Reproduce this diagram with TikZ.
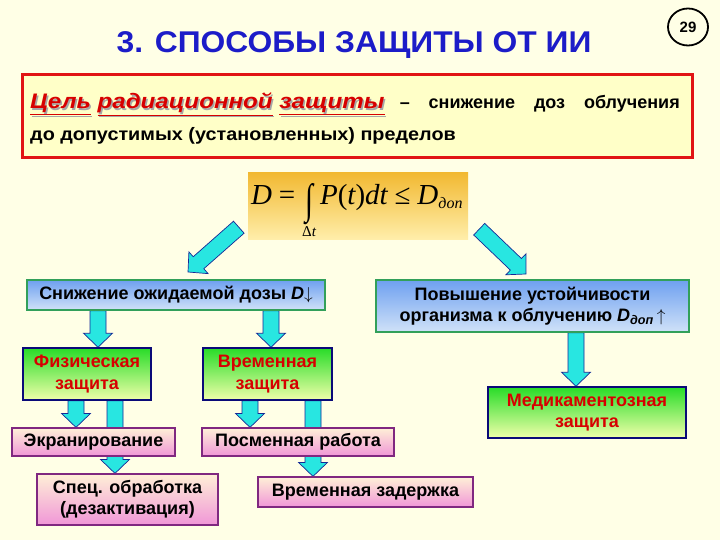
\documentclass[tikz,border=0pt]{standalone}
\usepackage{fontspec}
\setmainfont{Liberation Sans}
\newfontfamily\tms{Liberation Serif}
\usetikzlibrary{calc,shapes.geometric}
\pgfdeclarelayer{back}
\pgfdeclarelayer{arrows}
\pgfsetlayers{back,arrows,main}
\definecolor{bgc}{RGB}{255,255,230}
\definecolor{titleblue}{RGB}{28,28,200}
\definecolor{redbox}{RGB}{225,20,20}
\definecolor{redfill}{RGB}{255,255,200}
\definecolor{blueT}{RGB}{110,160,240}
\definecolor{blueB}{RGB}{208,226,248}
\definecolor{boxgreen}{RGB}{50,160,90}
\definecolor{greenT}{RGB}{40,220,40}
\definecolor{greenB}{RGB}{240,255,170}
\definecolor{navy}{RGB}{10,10,120}
\definecolor{pinkT}{RGB}{255,240,215}
\definecolor{pinkB}{RGB}{240,150,215}
\definecolor{purp}{RGB}{128,40,128}
\definecolor{goldT}{RGB}{242,185,50}
\definecolor{goldB}{RGB}{255,238,170}
\definecolor{arrcyan}{RGB}{40,230,225}
\definecolor{arredge}{RGB}{20,40,150}
\definecolor{txtred}{RGB}{215,0,0}
\newcommand\bodyfont{\fontsize{18}{21.5}\selectfont\bfseries}
% block arrow from #1 (start) to #2 (tip)
\newcommand\blockarr[2]{%
  \coordinate (hb) at ($(#2)!14pt!(#1)$);
  \filldraw[blockarrow]
    ($(#1)!8pt!90:(#2)$) -- ($(hb)!8pt!-90:(#1)$) -- ($(hb)!14.5pt!-90:(#1)$) -- (#2)
    -- ($(hb)!14.5pt!90:(#1)$) -- ($(hb)!8pt!90:(#1)$) -- ($(#1)!8pt!-90:(#2)$) -- cycle;}
% vertical block arrow at x = #1 from node #2 (south) to node #3 (north)
\newcommand\vdarr[3]{%
  \coordinate (vx) at (#1,0);
  \coordinate (vs) at (vx |- #2.south);
  \coordinate (ve) at (vx |- #3.north);
  \blockarr{vs}{ve}}
\newcommand\goalred{\underline{Цель}\ \underline{радиационной}\ \underline{защиты}}
\begin{document}
\begin{tikzpicture}[x=1pt,y=-1pt,
  blockarrow/.style={fill=arrcyan, draw=arredge, line width=0.7pt, line join=miter},
  box/.style={inner sep=0pt, align=center, font=\bodyfont, line width=1.5pt},
  bluebox/.style={box, draw=boxgreen, top color=blueT, bottom color=blueB},
  greenbox/.style={box, draw=navy, top color=greenT, bottom color=greenB, text=txtred},
  pinkbox/.style={box, draw=purp, line width=1.2pt, top color=pinkT, bottom color=pinkB},
  redit/.style={anchor=base west, inner sep=0pt, font=\fontsize{21}{24}\selectfont\bfseries\itshape}]
\begin{pgfonlayer}{back}
\fill[bgc] (0,0) rectangle (720,540);
\end{pgfonlayer}
\useasboundingbox (0,0) rectangle (720,540);

% title and page number
\node[anchor=base, text=titleblue, inner sep=0pt,
  font=\fontsize{30}{34}\selectfont\bfseries] (title) at (354,53)
  {\scalebox{1.06}[1]{3. СПОСОБЫ ЗАЩИТЫ ОТ ИИ}};
\node[ellipse, draw, line width=1.8pt, minimum width=40, minimum height=37, inner sep=0pt,
  font=\fontsize{15}{16}\selectfont\bfseries] (num) at (688,27) {29};

% goal box
\node[draw=redbox, line width=3pt, fill=redfill, minimum width=670, minimum height=83,
  inner sep=0pt] (goal) at (357,116) {};
\node[redit, text=gray!70] (goalshadow) at (31.5,110.5)
  {\scalebox{1.15}[1]{\goalred}};
\node[redit, text=txtred] (goalred) at (30,109)
  {\scalebox{1.15}[1]{\goalred}};
\node[anchor=base east, inner sep=0pt, font=\fontsize{18}{21}\selectfont\bfseries]
  (goalblack) at (680,109) {\makebox[280pt][s]{– снижение доз облучения}};
\node[anchor=base west, inner sep=0pt, font=\fontsize{18}{21}\selectfont\bfseries]
  (goal2) at (30,141) {\scalebox{1.1}[1]{до допустимых (установленных) пределов}};

% formula
\node[top color=goldT, bottom color=goldB, minimum width=220, minimum height=66,
  inner sep=0pt] (form) at (358,206) {};
\node[anchor=base, inner sep=0pt] (formtxt) at (357,205)
  {\fontsize{29}{32}\selectfont\tms
   $\hbox{\itshape D}\mathrel{\hbox{=}}%
    \mathop{\raisebox{-9pt}{\scalebox{1}[1.45]{∫}}}\limits_{\hbox{\fontsize{15}{16}\selectfont Δ\itshape t}}%
    \hbox{\itshape P}\hbox{(}\hbox{\itshape t}\hbox{)}\hbox{\itshape dt}\mathrel{\hbox{≤}}%
    \hbox{\itshape D}_{\hbox{\fontsize{16}{16}\selectfont\itshape доп}}$};

% boxes
\node[bluebox, minimum width=298, minimum height=30] (snij) at (176,295)
  {Снижение ожидаемой дозы \textit{D}$\downarrow$};
\node[bluebox, minimum width=313, minimum height=52] (povy) at (532.5,306)
  {Повышение устойчивости\\организма к облучению
   \textit{D}\textsubscript{\textit{доп}}\,$\uparrow$};
\node[greenbox, minimum width=128, minimum height=52] (phys) at (87,374)
  {Физическая\\защита};
\node[greenbox, minimum width=129, minimum height=52] (vrem) at (267.5,374)
  {Временная\\защита};
\node[greenbox, minimum width=198, minimum height=51] (medi) at (587,412.5)
  {Медикаментозная\\защита};
\node[pinkbox, minimum width=163, minimum height=28] (ekra) at (93.5,442)
  {Экранирование};
\node[pinkbox, minimum width=181, minimum height=51] (spec) at (127.5,499.5)
  {Спец. обработка\\(дезактивация)};
\node[pinkbox, minimum width=192, minimum height=28] (posm) at (298,442)
  {Посменная работа};
\node[pinkbox, minimum width=215, minimum height=30] (zade) at (365.5,492)
  {Временная задержка};

% arrows
\begin{pgfonlayer}{arrows}
\coordinate (lstart) at ($(form.south west)+(-9,-12)$);
\coordinate (ltip) at (188,272);
\coordinate (rstart) at ($(form.south east)+(11,-10)$);
\coordinate (rtip) at (526,274);
\blockarr{lstart}{ltip}
\blockarr{rstart}{rtip}
\vdarr{98}{snij}{phys}
\vdarr{271}{snij}{vrem}
\vdarr{76}{phys}{ekra}
\vdarr{115}{phys}{spec}
\vdarr{250}{vrem}{posm}
\vdarr{313}{vrem}{zade}
\vdarr{576}{povy}{medi}
\end{pgfonlayer}
\end{tikzpicture}
\end{document}
